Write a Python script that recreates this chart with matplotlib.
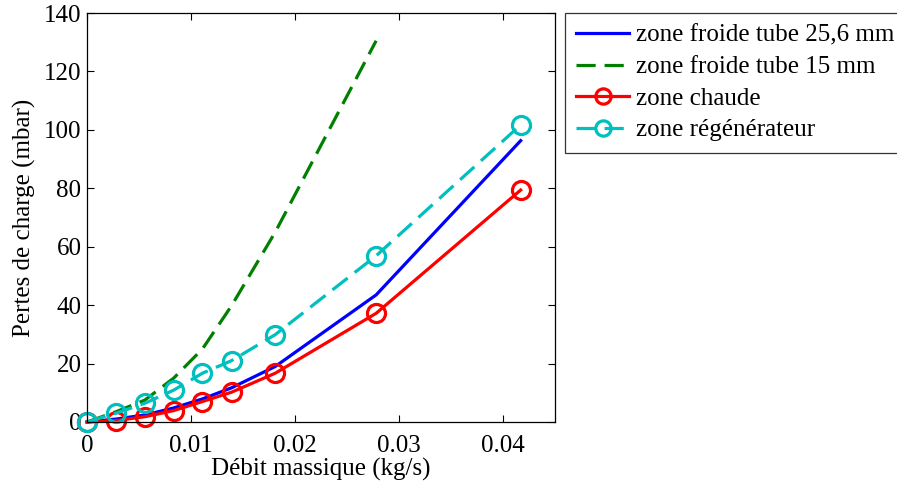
import matplotlib
matplotlib.use("Agg")
import matplotlib.pyplot as plt

plt.rcParams['font.family'] = ['Liberation Serif', 'DejaVu Serif']
plt.rcParams['mathtext.fontset'] = 'stix'

# data (mass flow in kg/s, pressure drop in mbar)
debit = [0, 0.00278, 0.00556, 0.00833, 0.0111, 0.0139, 0.0181, 0.0278, 0.0417]
froide_25 = [0, 1.0, 2.4, 4.8, 7.9, 11.7, 19.0, 43.5, 96.3]
debit_15 = [0, 0.00278, 0.00556, 0.00833, 0.0111, 0.0139, 0.0181, 0.0278]
froide_15 = [0, 3.5, 7.5, 15.0, 25.0, 39.8, 65.0, 130.5]
chaude = [0, 0.5, 1.8, 3.9, 7.0, 10.2, 16.7, 37.2, 79.4]
regen = [0, 3.0, 6.4, 10.9, 16.7, 21.0, 29.9, 56.9, 101.7]

labels = ['zone froide tube 25,6 mm', 'zone froide tube 15 mm',
          'zone chaude', 'zone régénérateur']
xticks = [0, 0.01, 0.02, 0.03, 0.04]
xticklabels = ['0', '0.01', '0.02', '0.03', '0.04']
yticks = [0, 20, 40, 60, 80, 100, 120, 140]

fig = plt.figure(figsize=(8.97, 4.87), dpi=100)
ax = fig.add_axes([87/897, 1-422/487, (555-87)/897, (422-13)/487])

lw = 2.3
dash = (0, (6.0, 2.8))
ax.plot(debit, froide_25, color='#0000ff', lw=lw, label=labels[0], clip_on=False)
ax.plot(debit_15, froide_15, color='#008000', lw=lw, ls=dash, label=labels[1],
        clip_on=False)
ax.plot(debit, chaude, color='#ff0000', lw=lw, marker='o', ms=13, mfc='none',
        mew=2.3, label=labels[2], clip_on=False)
ax.plot(debit, regen, color='#00bfbf', lw=lw, ls=dash, marker='o', ms=13,
        mfc='none', mew=2.3, label=labels[3], clip_on=False)

ax.set_xlim(0, 0.045)
ax.set_ylim(0, 140)
ax.set_xticks(xticks)
ax.set_xticklabels(xticklabels)
ax.set_yticks(yticks)
ax.tick_params(direction='in', top=True, right=True, labelsize=18, length=5)
ax.tick_params(axis='x', pad=9)
ax.tick_params(axis='y', pad=4)
for s in ax.spines.values():
    s.set_linewidth(0.9)
ax.set_xlabel('Débit massique (kg/s)', fontsize=18, labelpad=1)
ax.set_ylabel('Pertes de charge (mbar)', fontsize=18, labelpad=6)

leg = fig.legend(loc='upper left', bbox_to_anchor=(565/897, 1-13/487),
                 fontsize=18, frameon=True, fancybox=False, edgecolor='#333333',
                 handlelength=2.1, handletextpad=0.28, labelspacing=0.36,
                 borderpad=0.45, borderaxespad=0, framealpha=1)
leg.get_frame().set_linewidth(0.9)
for h in leg.legend_handles:
    h.set_markersize(11)

fig.savefig('out.png', dpi=100)
